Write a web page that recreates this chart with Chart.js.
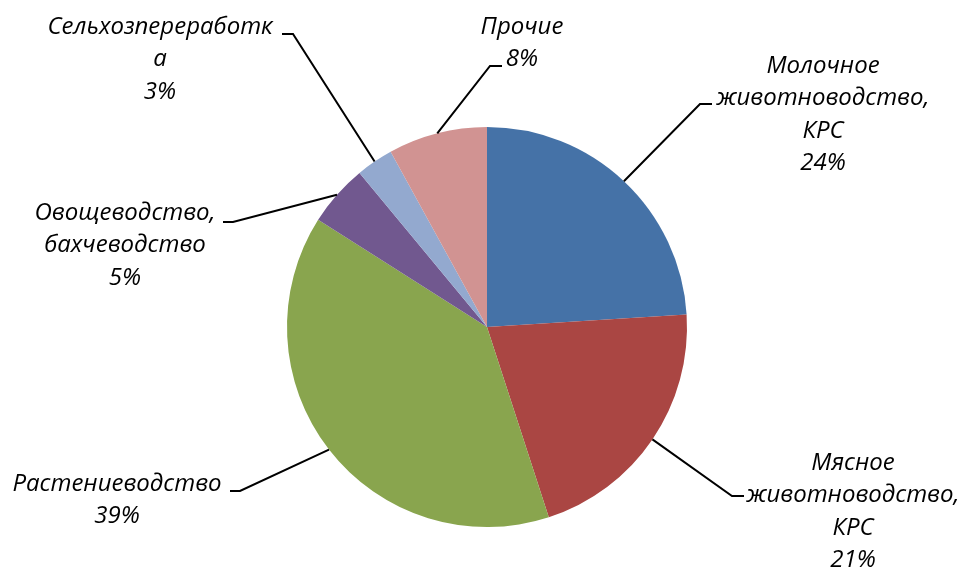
<!DOCTYPE html>
<html>
<head>
<meta charset="utf-8">
<script src="https://cdn.jsdelivr.net/npm/chart.js@4.4.1/dist/chart.umd.min.js"></script>
<style>
  html, body { margin: 0; padding: 0; background: #fff; }
  #wrap { width: 968px; height: 570px; }
</style>
</head>
<body>
<div id="wrap"><canvas id="pieChart" width="968" height="570"></canvas></div>
<script>
// Data
const categories = [
    ['Молочное', 'животноводство,', 'КРС'],
    ['Мясное', 'животноводство,', 'КРС'],
    ['Растениеводство'],
    ['Овощеводство,', 'бахчеводство'],
    ['Сельхозпереработк', 'а'],
    ['Прочие']
];
const shares = [24, 21, 39, 5, 3, 8];
const colors = ['#4572A7', '#AA4643', '#89A54E', '#71588F', '#93A9CF', '#D19392'];

// where each label block sits: text centre x, first line y, elbow of the leader line
const labelLayout = [
    { x: 823, y: 66, elbow: [700, 104], stub: 12 },
    { x: 853, y: 463, elbow: [732, 496], stub: 12 },
    { x: 117, y: 484, elbow: [240, 491], stub: -10 },
    { x: 125, y: 213, elbow: [233, 222], stub: -10 },
    { x: 160, y: 27, elbow: [293, 34], stub: -11 },
    { x: 522, y: 27, elbow: [490, 66], stub: 12 }
];

const lineHeight = 32.5;
const labelFont = 'italic 24px "Open Sans", "Liberation Sans", sans-serif';

const pieLabels = {
    id: 'pieLabels',
    afterDraw(chart) {
        const ctx = chart.ctx;
        const meta = chart.getDatasetMeta(0);
        ctx.save();
        meta.data.forEach((arc, i) => {
            const lay = labelLayout[i];
            const mid = (arc.startAngle + arc.endAngle) / 2;
            const px = arc.x + Math.cos(mid) * arc.outerRadius;
            const py = arc.y + Math.sin(mid) * arc.outerRadius;
            ctx.strokeStyle = '#000';
            ctx.lineWidth = 2;
            ctx.beginPath();
            ctx.moveTo(px, py);
            ctx.lineTo(lay.elbow[0], lay.elbow[1]);
            ctx.lineTo(lay.elbow[0] + lay.stub, lay.elbow[1]);
            ctx.stroke();

            ctx.fillStyle = '#000';
            ctx.font = labelFont;
            ctx.textAlign = 'center';
            ctx.textBaseline = 'middle';
            const lines = categories[i].concat([shares[i] + '%']);
            lines.forEach((t, k) => {
                ctx.fillText(t, lay.x, lay.y + k * lineHeight);
            });
        });
        ctx.restore();
    }
};

const pieCtx = document.getElementById('pieChart').getContext('2d');
new Chart(pieCtx, {
    type: 'pie',
    data: {
        labels: categories.map(c => c.join(' ')),
        datasets: [{
            data: shares,
            backgroundColor: colors,
            borderWidth: 0
        }]
    },
    options: {
        responsive: false,
        animation: false,
        layout: {
            padding: { top: 127, bottom: 43, left: 287, right: 281 }
        },
        plugins: {
            legend: { display: false },
            tooltip: { enabled: false }
        }
    },
    plugins: [pieLabels]
});
</script>
</body>
</html>
